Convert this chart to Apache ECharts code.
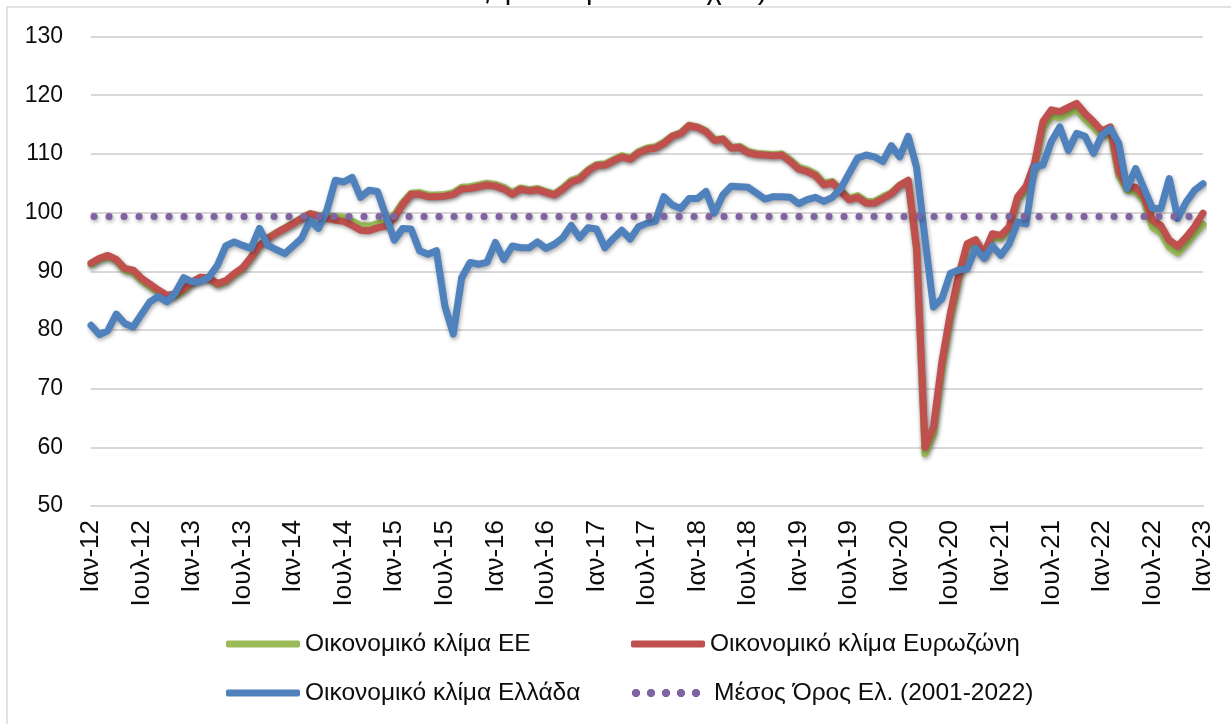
<!DOCTYPE html>
<html>
<head>
<meta charset="utf-8">
<script src="https://cdn.jsdelivr.net/npm/echarts@6/dist/echarts.min.js"></script>
<style>
  html, body { margin: 0; padding: 0; background: #fff; }
  #echarts-container1 { width: 1231px; height: 724px; }
</style>
</head>
<body>
<div id="echarts-container1"></div>
<script>
// μήνες στον άξονα (μορφή mmm-yy)
var monthNames = ['Ιαν', 'Φεβ', 'Μαρ', 'Απρ', 'Μαΐ', 'Ιουν', 'Ιουλ', 'Αυγ', 'Σεπ', 'Οκτ', 'Νοε', 'Δεκ'];
var years = ['12', '13', '14', '15', '16', '17', '18', '19', '20', '21', '22', '23'];

var seriesNames = ['Οικονομικό κλίμα ΕΕ', 'Οικονομικό κλίμα Ευρωζώνη', 'Οικονομικό κλίμα Ελλάδα', 'Μέσος Όρος Ελ. (2001-2022)'];

// Ιαν-12 ... Ιαν-23
var esiEU = [
    91.2, 92.0, 92.5, 91.8, 90.2, 89.8, 88.4, 87.4, 86.4, 85.5, 85.8, 86.7,
    88.0, 88.8, 88.7, 87.7, 88.2, 89.4, 90.4, 92.2, 94.3, 95.7, 96.6, 97.4,
    98.2, 99.1, 99.8, 99.5, 99.4, 99.3, 99.2, 98.5, 97.8, 97.7, 98.1, 98.3,
    99.6, 101.7, 103.3, 103.4, 103.0, 103.0, 103.1, 103.4, 104.3, 104.4, 104.7, 105.0,
    104.8, 104.3, 103.4, 104.2, 103.9, 104.1, 103.6, 103.2, 104.2, 105.5, 106.0, 107.3,
    108.2, 108.3, 109.0, 109.7, 109.3, 110.4, 111.0, 111.2, 112.0, 113.1, 113.6, 114.9,
    114.6, 113.9, 112.4, 112.6, 111.1, 111.3, 110.4, 110.1, 110.0, 109.9, 110.0, 109.0,
    107.7, 107.3, 106.6, 105.0, 105.3, 103.8, 102.4, 102.9, 101.9, 101.9, 102.7, 103.4,
    104.7, 105.4, 93.5, 58.9, 62.2, 73.3, 81.8, 88.6, 94.2, 94.9, 92.5, 95.9,
    95.6, 97.1, 102.2, 104.0, 107.9, 114.5, 116.5, 116.2, 116.9, 117.6, 115.9, 114.6,
    113.0, 113.8, 106.3, 103.8, 103.6, 102.0, 97.5, 96.6, 94.1, 93.1, 94.6, 96.4,
    98.0
];
var esiEZ = [
    91.4, 92.2, 92.7, 92.0, 90.5, 90.2, 88.8, 87.8, 86.8, 85.9, 86.2, 87.0,
    88.2, 89.0, 88.9, 87.9, 88.4, 89.6, 90.6, 92.4, 94.4, 95.6, 96.5, 97.3,
    98.1, 99.0, 99.8, 99.4, 99.0, 98.7, 98.5, 97.8, 97.0, 96.9, 97.4, 97.7,
    99.1, 101.4, 103.1, 103.1, 102.7, 102.7, 102.8, 103.1, 104.0, 104.1, 104.4, 104.7,
    104.5, 104.0, 103.1, 104.0, 103.7, 103.9, 103.4, 103.0, 104.0, 105.2, 105.7, 107.1,
    108.0, 108.1, 108.8, 109.5, 109.1, 110.2, 110.8, 111.0, 111.8, 113.0, 113.5, 114.8,
    114.5, 113.8, 112.3, 112.5, 111.0, 111.1, 110.2, 109.9, 109.8, 109.7, 109.8, 108.7,
    107.4, 107.0, 106.3, 104.7, 105.1, 103.6, 102.2, 102.6, 101.6, 101.6, 102.4, 103.2,
    104.6, 105.5, 94.0, 60.0, 63.5, 74.5, 82.8, 89.3, 94.7, 95.4, 93.0, 96.4,
    96.1, 97.6, 102.7, 104.5, 108.4, 115.5, 117.5, 117.2, 117.9, 118.6, 116.9, 115.5,
    113.9, 114.6, 107.0, 104.5, 104.3, 102.7, 98.7, 97.8, 95.3, 94.3, 95.8, 97.6,
    99.9
];
var esiGR = [
    80.8, 79.2, 79.9, 82.7, 81.1, 80.5, 82.7, 84.8, 85.7, 84.8, 86.3, 88.9,
    88.2, 88.2, 89.0, 91.0, 94.3, 95.0, 94.4, 93.9, 97.3, 94.4, 93.7, 93.0,
    94.3, 95.6, 98.7, 97.3, 100.4, 105.5, 105.2, 106.0, 102.6, 103.8, 103.6, 99.5,
    95.3, 97.3, 97.2, 93.5, 92.9, 93.5, 84.1, 79.3, 88.9, 91.5, 91.2, 91.5,
    94.9, 92.0, 94.3, 94.0, 94.0, 95.0, 93.9, 94.6, 95.7, 97.8, 95.7, 97.4,
    97.2, 94.0, 95.6, 97.0, 95.5, 97.6, 98.2, 98.5, 102.7, 101.3, 100.7, 102.4,
    102.4, 103.6, 99.9, 103.0, 104.5, 104.4, 104.3, 103.3, 102.3, 102.7, 102.7, 102.6,
    101.5, 102.2, 102.6, 101.9, 102.6, 104.1, 106.7, 109.3, 109.8, 109.5, 108.7, 111.4,
    109.5, 113.0, 107.7, 95.5, 83.9, 85.3, 89.6, 90.2, 90.4, 93.9, 92.2, 94.3,
    92.7, 94.7, 98.4, 98.1, 107.8, 108.1, 112.1, 114.6, 110.6, 113.5, 113.0, 110.1,
    113.2, 114.3, 111.8, 104.1, 107.5, 104.1, 100.7, 100.7, 105.8, 99.0, 101.8, 103.8,
    104.9
];
var avgGR = 99.3;

var months = [];
for (var y = 0; y < years.length; y++) {
    for (var m = 0; m < 12; m++) {
        if (months.length < esiGR.length) months.push(monthNames[m] + '-' + years[y]);
    }
}

var FONT = '"Liberation Sans", Arial, sans-serif';
var lineShadow = {
    shadowColor: 'rgba(0,0,0,0.35)',
    shadowBlur: 4,
    shadowOffsetX: 1,
    shadowOffsetY: 2
};

function lineSeries(name, data, color) {
    return {
        name: name,
        type: 'line',
        data: data,
        symbol: 'none',
        silent: true,
        itemStyle: { color: color },
        lineStyle: Object.assign({ color: color, width: 7, join: 'round', cap: 'round' }, lineShadow)
    };
}

function legendItem(name, icon, color, left, top, w, h, pad) {
    return {
        data: [{ name: name, icon: icon, itemStyle: { color: color } }],
        left: left,
        top: top,
        padding: 0,
        itemWidth: w,
        itemHeight: h,
        selectedMode: false,
        textStyle: { fontFamily: FONT, fontSize: 24.5, color: '#0d0d0d', lineHeight: 26, padding: [0, 0, 0, pad] }
    };
}

// πέντε τελείες (οκτάγωνα) για το εικονίδιο του μέσου όρου
var dotsIcon = 'path://';
[4, 19, 34, 49, 64].forEach(function (c) {
    dotsIcon += 'M' + (c - 1.7) + ',0L' + (c + 1.7) + ',0L' + (c + 4) + ',2.3L' + (c + 4) + ',5.7L' +
        (c + 1.7) + ',8L' + (c - 1.7) + ',8L' + (c - 4) + ',5.7L' + (c - 4) + ',2.3Z';
});

var myChart = echarts.init(document.getElementById('echarts-container1'), null, { renderer: 'canvas' });
option = {
    animation: false,
    backgroundColor: '#fff',
    title: {
        text: 'εξομαλυσμένα στοιχεία)',
        left: 'center',
        top: -24,
        padding: 0,
        textStyle: { fontFamily: FONT, fontSize: 29, fontWeight: 'normal', color: '#0d0d0d' }
    },
    graphic: [{
        type: 'rect',
        z: -10,
        silent: true,
        shape: { x: 7, y: 7, width: 1300, height: 800 },
        style: { fill: 'none', stroke: '#d9d9d9', lineWidth: 1.5 }
    }],
    grid: {
        left: 91,
        right: 28,
        top: 36.5,
        bottom: 218
    },
    legend: [
        legendItem(seriesNames[0], 'roundRect', '#9bbb59', 226, 631, 74, 7, 0),
        legendItem(seriesNames[1], 'roundRect', '#c0504d', 631, 631, 74, 7, 0),
        legendItem(seriesNames[2], 'roundRect', '#4f81bd', 226, 680, 74, 7, 0),
        legendItem(seriesNames[3], dotsIcon, '#8064a2', 632, 680, 68, 8, 9)
    ],
    xAxis: {
        type: 'category',
        boundaryGap: false,
        data: months,
        axisLine: { lineStyle: { color: '#d9d9d9', width: 2 } },
        axisTick: { show: false },
        splitLine: { show: false },
        axisLabel: {
            interval: 5,
            rotate: 90,
            margin: 14,
            fontFamily: FONT,
            fontSize: 26,
            color: '#0d0d0d'
        }
    },
    yAxis: {
        type: 'value',
        min: 50,
        max: 130,
        interval: 10,
        axisLine: { show: false },
        axisTick: { show: false },
        splitLine: { lineStyle: { color: '#d9d9d9', width: 2 } },
        axisLabel: {
            margin: 28,
            fontFamily: FONT,
            fontSize: 23,
            color: '#0d0d0d'
        }
    },
    series: [
        lineSeries(seriesNames[0], esiEU, '#9bbb59'),
        lineSeries(seriesNames[1], esiEZ, '#c0504d'),
        lineSeries(seriesNames[2], esiGR, '#4f81bd'),
        {
            name: seriesNames[3],
            type: 'line',
            data: [],
            symbol: 'none',
            itemStyle: { color: '#8064a2' },
            markLine: {
                silent: true,
                symbol: ['none', 'none'],
                label: { show: false },
                lineStyle: Object.assign({ color: '#8064a2', width: 7, type: [0.1, 14.9], cap: 'round', dashOffset: 12 }, lineShadow),
                data: [{ yAxis: avgGR }]
            }
        }
    ]
};
myChart.setOption(option);
</script>
</body>
</html>
